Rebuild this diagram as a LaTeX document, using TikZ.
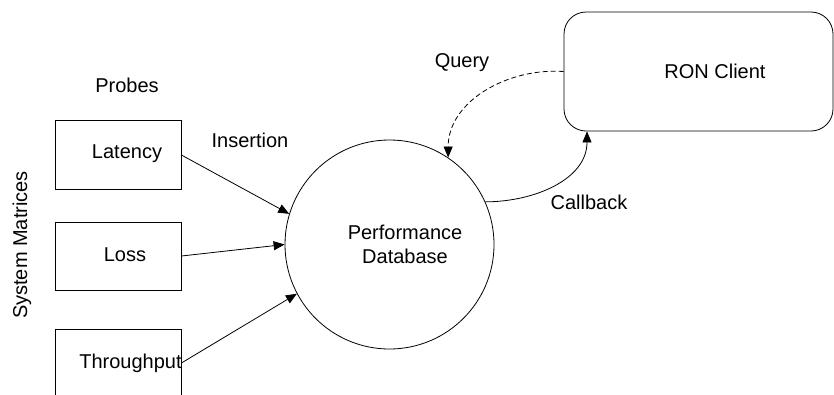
\documentclass[tikz,border=0pt]{standalone}
\usepackage{fontspec}
\setmainfont{Liberation Sans}
\usetikzlibrary{arrows.meta}
\begin{document}
\begin{tikzpicture}[x=1pt,y=-1pt,
  every node/.style={font=\fontsize{20}{23.5}\selectfont, inner sep=0pt},
  probebox/.style={draw, line width=0.8pt, minimum width=126pt, minimum height=69pt},
  arr/.style={line width=0.8pt, -{Triangle[length=11pt,width=9pt]}},
  lw/.style={line width=0.8pt}]
\useasboundingbox (0,0) rectangle (834,394);
\clip (0,0) rectangle (834,394);
% probes
\node[probebox] (lat) at (118,154.5) {};
\node (latt) at (127,154) {Latency};
\node[probebox, minimum height=68pt] (loss) at (118,256) {};
\node (losst) at (125,255) {Loss};
\node[probebox] (thr) at (118,363.5) {};
\node (thrt) at (130.5,363) {Throughput};
\node (probes) at (127,85) {Probes};
\node (insert) at (250,140) {Insertion};
\node[rotate=90] (sysm) at (22,245) {System Matrices};
% database
\node[draw, circle, lw, minimum size=209pt] (db) at (389.5,244.5) {};
\node[align=center] (dbt) at (405,244.5) {Performance\\Database};
% RON client
\node[draw, lw, rounded corners=22pt, minimum width=269pt, minimum height=119pt] (ron) at (698.5,71.5) {};
\node (ront) at (715,71) {RON Client};
\node (query) at (462,63) {Query};
\node (cb) at (589,202) {Callback};
% connectors
\draw[arr] (lat.east |- 0,155) -- (db.163);
\draw[arr] (loss.east |- 0,256) -- (db.180);
\draw[arr] (thr.east |- 0,363) -- (db.208);
\draw[arr] (db.24) to[out=0,in=-90] (ron.south -| 587,0);
\draw[arr, dash pattern=on 5pt off 3pt] (ron.west) to[out=176,in=90] (db.56);
\end{tikzpicture}
\end{document}
